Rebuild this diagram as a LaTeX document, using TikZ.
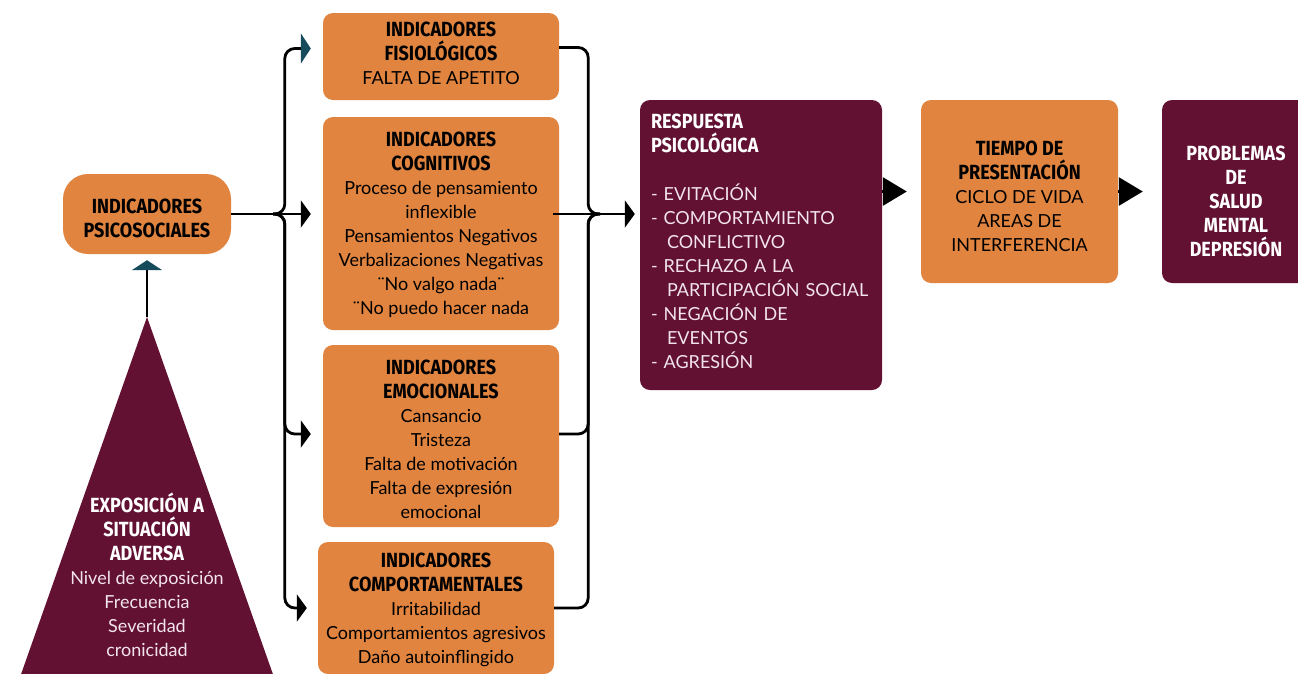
\documentclass[tikz,border=0pt]{standalone}
\usepackage{fontspec}
\setmainfont{Lato}
\newfontfamily\tf[FakeStretch=0.88]{Fira Sans}
\usetikzlibrary{arrows.meta,calc}
\definecolor{orng}{HTML}{E0843F}
\definecolor{mar}{HTML}{621133}
\definecolor{tealc}{HTML}{154B5A}
\definecolor{lpink}{HTML}{F2E4EA}
\newcommand{\ttl}[1]{{\tf\bfseries\fontsize{20.5}{24}\selectfont #1}}
\tikzset{
  box/.style={inner sep=0pt},
  obox/.style={box, fill=orng, rounded corners=10pt},
  mbox/.style={box, fill=mar, rounded corners=10pt},
  txt/.style={inner sep=0pt, align=center, font=\fontsize{18}{24}\selectfont},
  otxt/.style={txt, text=black},
  mtxt/.style={txt, text=lpink},
  ln/.style={line width=2.8pt, black},
  tipk/.style={-{Triangle[length=10pt,width=27pt]}},
  tipt/.style={-{Triangle[length=10pt,width=30pt,color=tealc]}},
  bigtip/.style={-{Triangle[length=24pt,width=28pt]}},
}
\begin{document}
\begin{tikzpicture}[x=1pt,y=-1pt]
\useasboundingbox (0,0) rectangle (1298,673);
% triangle
\fill[mar] (147,317) -- (275,680) -- (19,680) -- cycle;
\coordinate (apex) at (147,317);
\node[mtxt] (expo) at (147,575) {\textcolor{white}{\ttl{EXPOSICIÓN A}}\\\textcolor{white}{\ttl{SITUACIÓN}}\\\textcolor{white}{\ttl{ADVERSA}}\\Nivel de exposición\\Frecuencia\\Severidad\\cronicidad};
% boxes
\node[obox, rounded corners=25pt, minimum width=168pt, minimum height=80pt] (psico) at (147,214) {};
\node[otxt] (psicot) at ($(psico)+(0,4)$) {\ttl{INDICADORES}\\\ttl{PSICOSOCIALES}};
\node[obox, minimum width=236pt, minimum height=87pt] (fisio) at (441,56.5) {};
\node[otxt] (fisiot) at ($(fisio)+(0,-3)$) {\ttl{INDICADORES}\\\ttl{FISIOLÓGICOS}\\FALTA DE APETITO};
\node[obox, minimum width=236pt, minimum height=213pt] (cogn) at (441,223.5) {};
\node[otxt] (cognt) at ($(cogn)+(0,1)$) {\ttl{INDICADORES}\\\ttl{COGNITIVOS}\\Proceso de pensamiento\\inflexible\\Pensamientos Negativos\\Verbalizaciones Negativas\\¨No valgo nada¨\\¨No puedo hacer nada};
\node[obox, minimum width=236pt, minimum height=182pt] (emoc) at (441,436) {};
\node[otxt] (emoct) at ($(emoc)+(0,3.5)$) {\ttl{INDICADORES}\\\ttl{EMOCIONALES}\\Cansancio\\Tristeza\\Falta de motivación\\Falta de expresión\\emocional};
\node[obox, minimum width=236pt, minimum height=132pt] (comp) at (436,608) {};
\node[otxt] (compt) at ($(comp)+(0,2)$) {\ttl{INDICADORES}\\\ttl{COMPORTAMENTALES}\\Irritabilidad\\Comportamientos agresivos\\Daño autoinflingido};
\node[mbox, minimum width=242pt, minimum height=290pt] (resp) at (761,245) {};
\node[mtxt, align=left, text width=220pt] (respt) at ($(resp)+(0,-4)$) {\textcolor{white}{\ttl{RESPUESTA}}\\\textcolor{white}{\ttl{PSICOLÓGICA}}\\[24pt]- EVITACIÓN\\- COMPORTAMIENTO\\\hspace*{16pt}CONFLICTIVO\\- RECHAZO A LA\\\hspace*{16pt}PARTICIPACIÓN SOCIAL\\- NEGACIÓN DE\\\hspace*{16pt}EVENTOS\\- AGRESIÓN};
\node[obox, minimum width=197pt, minimum height=183pt] (tiempo) at (1019.5,191.5) {};
\node[otxt] (tiempot) at ($(tiempo)+(0,5)$) {\ttl{TIEMPO DE}\\\ttl{PRESENTACIÓN}\\CICLO DE VIDA\\AREAS DE\\INTERFERENCIA};
\node[mbox, minimum width=148pt, minimum height=183pt] (prob) at (1236,191.5) {};
\node[mtxt, text=white] (probt) at ($(prob)+(0,10)$) {\ttl{PROBLEMAS}\\\ttl{DE}\\\ttl{SALUD}\\\ttl{MENTAL}\\\ttl{DEPRESIÓN}};
% connectors
\draw[ln, tipt, shorten >=6pt] (apex) -- (psico.south);
\coordinate (lj) at ($(psico.east)+(42,0)$);
\draw[ln, tipk, shorten >=12pt] (psico.east) -- (psico.east -| cogn.west);
\draw[ln, tipt, rounded corners=10pt, shorten >=12pt] (lj) -| ($(fisio.west)+(-38,-8)$) -- ($(fisio.west)+(0,-8)$);
\draw[ln, tipk, rounded corners=10pt, shorten >=12pt] (lj) -| ($(emoc.west)+(-38,-2)$) -- ($(emoc.west)+(0,-2)$);
\draw[ln, tipk, rounded corners=10pt, shorten >=11pt] (lj) -| ($(comp.west)+(-33,0)$) -- (comp.west);
\coordinate (rj) at ($(psico.east -| cogn.east)+(41,0)$);
\draw[ln, rounded corners=10pt] ($(fisio.east)+(0,-9)$) -| ($(rj)+(-12,0)$) -- (rj);
\draw[ln, rounded corners=10pt] ($(emoc.east)+(0,-2)$) -| ($(rj)+(-12,0)$) -- (rj);
\draw[ln, rounded corners=10pt] (comp.east) -| ($(rj)+(-12,0)$) -- (rj);
\draw[ln, tipk, shorten >=5pt] ($(psico.east -| cogn.east)+(-6,0)$) -- (psico.east -| resp.west);
\draw[ln, bigtip, shorten >=14pt] (resp.east |- tiempo.west) -- (tiempo.west);
\draw[ln, bigtip, shorten >=19pt] (tiempo.east) -- (prob.west);
\end{tikzpicture}
\end{document}
